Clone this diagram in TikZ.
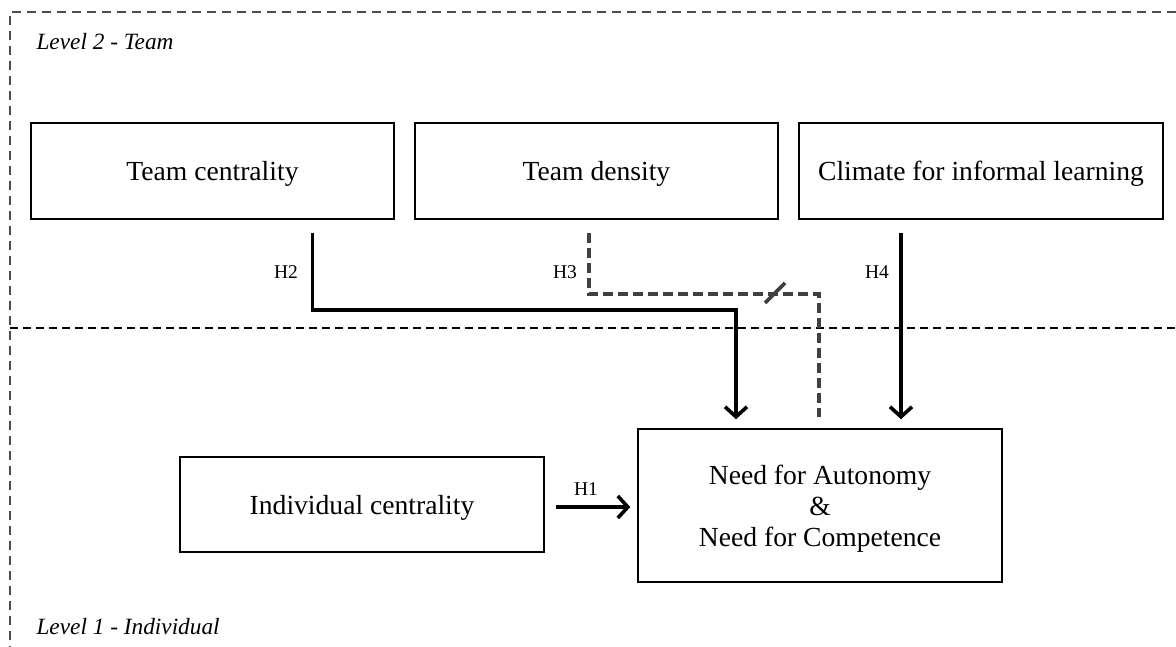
\documentclass[tikz,border=0pt]{standalone}
\usepackage{fontspec}
\setmainfont{Liberation Serif}
\usetikzlibrary{arrows.meta}
\begin{document}
\begin{tikzpicture}[x=1pt,y=-1pt,
  box/.style={draw=black,line width=1.5pt,minimum width=363pt,minimum height=96pt,inner sep=0pt,text depth=0pt,font=\fontsize{27.6}{31}\selectfont},
  arr/.style={line width=3.6pt,-{Straight Barb[length=10pt,width=22pt,line width=3.6pt]}},
  hyp/.style={font=\fontsize{19.5}{22}\selectfont},
  lvl/.style={font=\fontsize{23.3}{26}\selectfont\itshape,anchor=west},
  frame/.style={draw=black!70,line width=1.8pt,dash pattern=on 9pt off 6pt},
  divider/.style={draw=black,line width=1.5pt,dash pattern=on 8pt off 5pt},
  weak/.style={draw=black!75,line width=3.8pt,dash pattern=on 10pt off 5pt}]
\useasboundingbox (0,0) rectangle (1176,647);
% frame
\draw[frame] (1176,12) -- (10,12) -- (10,647);
\draw[divider] (10,328) -- (1176,328);
\node[lvl] (l2) at (33,42) {Level 2 - Team};
\node[lvl] (l1) at (33,627) {Level 1 - Individual};
% boxes
\node[box] (tc) at (212.5,171) {Team centrality};
\node[box] (td) at (596.5,171) {Team density};
\node[box,minimum width=364pt] (cl) at (981,171) {Climate for informal learning};
\node[box,minimum width=364pt,minimum height=95pt] (ind) at (362,504.5) {Individual centrality};
\node[box,minimum width=364pt,minimum height=153pt,align=center] (need) at (820,505.5) {Need for Autonomy\\\&\\Need for Competence};
% connectors
\draw[arr] ([xshift=100pt,yshift=-13pt]tc.south) -- ++(0,77) -| ([xshift=-84pt,yshift=9pt]need.north);
\draw[weak] ([xshift=-7.5pt,yshift=-13pt]td.south) -- ++(0,61) -| ([xshift=-1pt,yshift=11pt]need.north);
\coordinate (slash) at (775,293);
\draw[draw=black!75,line width=3.8pt] ([xshift=-10pt,yshift=-10pt]slash) -- ([xshift=10pt,yshift=10pt]slash);
\draw[arr] ([xshift=-80pt,yshift=-13pt]cl.south) -- ([xshift=81pt,yshift=9pt]need.north);
\draw[arr] ([xshift=11pt,yshift=-2.5pt]ind.east) -- ([xshift=-7pt,yshift=-2.5pt]ind.east -| need.west);
% labels
\node[hyp] (h1) at (586,489) {H1};
\node[hyp] (h2) at (286,272) {H2};
\node[hyp] (h3) at (565,272) {H3};
\node[hyp] (h4) at (877,272) {H4};
\end{tikzpicture}
\end{document}
